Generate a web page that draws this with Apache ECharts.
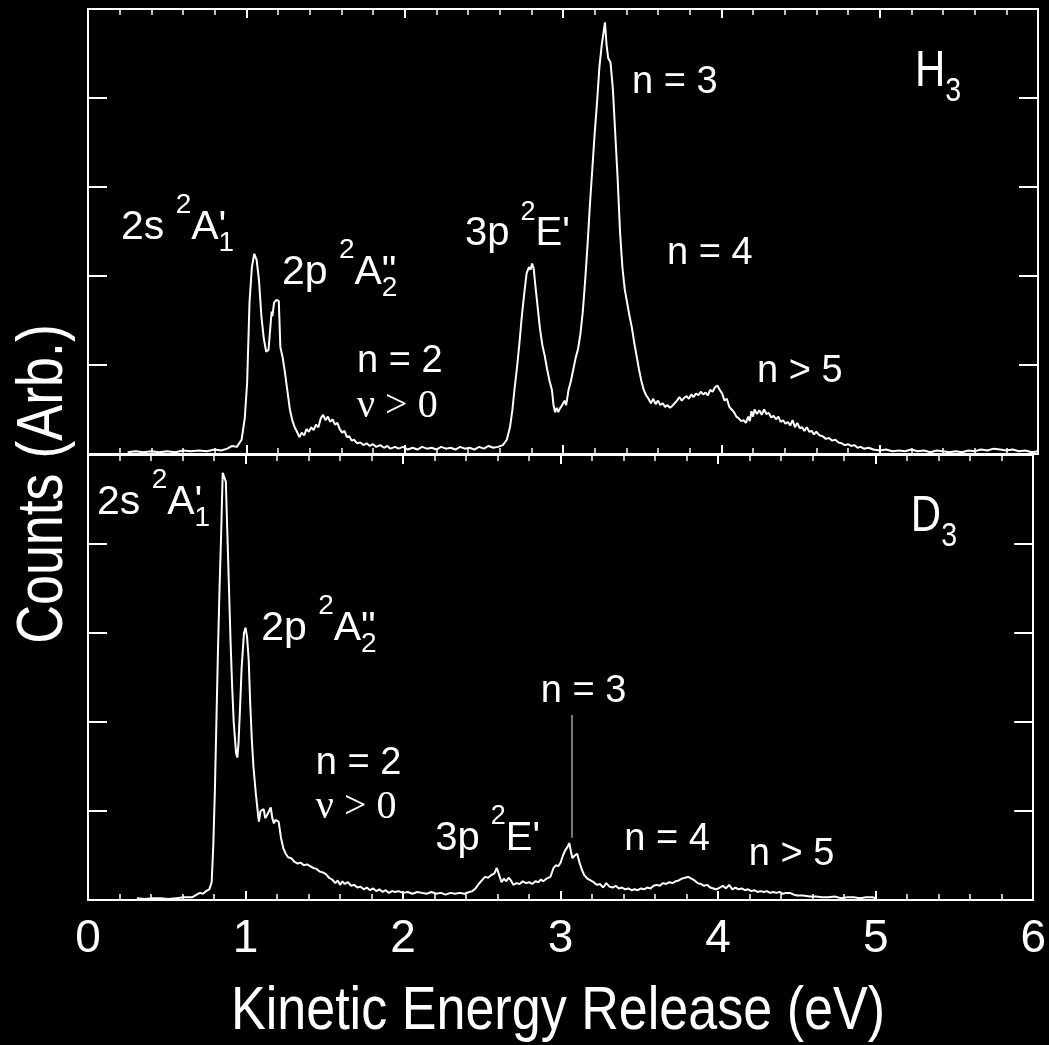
<!DOCTYPE html>
<html>
<head>
<meta charset="utf-8">
<script src="https://cdn.jsdelivr.net/npm/echarts@6/dist/echarts.min.js"></script>
<style>
  html, body { margin: 0; padding: 0; background: #000; }
  #chart { width: 1049px; height: 1045px; }
</style>
</head>
<body>
<div id="chart"></div>
<script>
// Kinetic energy release spectra of H3 and D3 (arbitrary count units)
const xTickLabels = ['0', '1', '2', '3', '4', '5', '6'];

// [energy (eV), counts]
const h3Spectrum = [
  [0.25,0.02],[0.30,0.03],[0.35,0.02],[0.40,0.03],[0.45,0.02],[0.50,0.03],[0.55,0.02],[0.60,0.04],
  [0.65,0.03],[0.70,0.04],[0.75,0.03],[0.80,0.05],[0.84,0.04],[0.88,0.06],[0.91,0.09],[0.94,0.08],
  [0.97,0.16],[0.99,0.40],[1.005,0.80],[1.02,1.70],[1.035,2.10],[1.05,2.25],[1.065,2.18],[1.08,1.95],
  [1.095,1.55],[1.11,1.30],[1.125,1.15],[1.14,1.17],[1.155,1.50],[1.16,1.60],[1.165,1.55],[1.175,1.70],
  [1.19,1.73],[1.205,1.72],[1.215,1.20],[1.23,1.08],[1.245,0.90],[1.26,0.70],[1.275,0.50],[1.29,0.38],
  [1.305,0.30],[1.32,0.25],[1.335,0.19],[1.35,0.24],[1.365,0.21],[1.38,0.28],[1.395,0.25],[1.41,0.30],
  [1.425,0.27],[1.44,0.33],[1.455,0.30],[1.47,0.40],[1.485,0.44],[1.50,0.38],[1.515,0.42],[1.53,0.36],
  [1.545,0.39],[1.56,0.33],[1.575,0.35],[1.59,0.28],[1.605,0.24],[1.62,0.26],[1.635,0.19],[1.65,0.20],
  [1.665,0.15],[1.68,0.16],[1.70,0.12],[1.72,0.13],[1.74,0.10],[1.76,0.12],[1.78,0.09],[1.80,0.11],
  [1.82,0.08],[1.845,0.10],[1.87,0.07],[1.89,0.09],[1.91,0.06],[1.94,0.08],[1.96,0.06],[1.99,0.08],
  [2.02,0.05],[2.05,0.07],[2.08,0.05],[2.11,0.08],[2.14,0.06],[2.17,0.07],[2.20,0.05],[2.23,0.08],
  [2.26,0.06],[2.29,0.07],[2.32,0.05],[2.35,0.08],[2.38,0.06],[2.41,0.07],[2.44,0.05],[2.47,0.08],
  [2.50,0.06],[2.53,0.09],[2.56,0.07],[2.59,0.08],[2.62,0.10],[2.645,0.16],[2.665,0.30],[2.68,0.49],
  [2.695,0.75],[2.71,0.98],[2.725,1.25],[2.74,1.55],[2.755,1.80],[2.77,2.03],[2.785,2.10],[2.795,2.07],
  [2.805,2.14],[2.815,2.08],[2.825,1.90],[2.84,1.65],[2.855,1.40],[2.87,1.22],[2.885,1.10],[2.90,0.95],
  [2.915,0.82],[2.93,0.72],[2.94,0.55],[2.95,0.47],[2.96,0.52],[2.97,0.47],[2.98,0.51],[2.995,0.55],
  [3.01,0.60],[3.02,0.55],[3.035,0.72],[3.05,0.82],[3.065,0.95],[3.08,1.08],[3.095,1.18],[3.11,1.35],
  [3.125,1.60],[3.14,1.95],[3.155,2.35],[3.17,2.80],[3.185,3.20],[3.20,3.60],[3.215,3.95],[3.23,4.35],
  [3.245,4.60],[3.255,4.72],[3.265,4.85],[3.275,4.60],[3.285,4.45],[3.30,4.40],[3.315,4.10],[3.33,3.60],
  [3.345,3.10],[3.36,2.50],[3.375,2.10],[3.39,1.85],[3.405,1.70],[3.42,1.55],[3.435,1.42],[3.45,1.25],
  [3.465,1.10],[3.48,0.95],[3.495,0.82],[3.51,0.72],[3.525,0.66],[3.54,0.62],[3.555,0.57],[3.57,0.62],
  [3.585,0.56],[3.60,0.60],[3.615,0.55],[3.63,0.57],[3.645,0.53],[3.66,0.55],[3.675,0.52],[3.69,0.54],
  [3.705,0.57],[3.72,0.60],[3.735,0.64],[3.75,0.60],[3.765,0.63],[3.78,0.65],[3.795,0.62],[3.81,0.67],
  [3.825,0.64],[3.84,0.68],[3.855,0.66],[3.87,0.70],[3.885,0.67],[3.90,0.69],[3.915,0.66],[3.93,0.72],
  [3.945,0.70],[3.96,0.75],[3.975,0.77],[3.99,0.72],[4.005,0.68],[4.02,0.60],[4.035,0.62],[4.05,0.53],
  [4.065,0.50],[4.08,0.47],[4.095,0.42],[4.11,0.40],[4.125,0.37],[4.14,0.38],[4.155,0.35],[4.17,0.42],
  [4.18,0.37],[4.19,0.48],[4.20,0.42],[4.21,0.50],[4.225,0.45],[4.24,0.49],[4.255,0.44],[4.27,0.50],
  [4.285,0.45],[4.30,0.46],[4.315,0.41],[4.33,0.43],[4.345,0.39],[4.36,0.42],[4.375,0.36],[4.39,0.38],
  [4.405,0.34],[4.42,0.36],[4.435,0.32],[4.45,0.38],[4.465,0.30],[4.48,0.35],[4.495,0.29],[4.51,0.30],
  [4.525,0.26],[4.54,0.30],[4.555,0.25],[4.57,0.26],[4.585,0.22],[4.60,0.25],[4.62,0.21],[4.64,0.20],
  [4.66,0.17],[4.68,0.18],[4.70,0.15],[4.72,0.16],[4.74,0.13],[4.76,0.12],[4.78,0.10],[4.80,0.11],
  [4.82,0.09],[4.84,0.10],[4.86,0.07],[4.88,0.08],[4.90,0.06],[4.93,0.07],[4.96,0.05],[5.00,0.04],
  [5.04,0.05],[5.08,0.03],[5.12,0.04],[5.16,0.03],[5.20,0.05],[5.24,0.03],[5.28,0.04],[5.32,0.02],
  [5.36,0.04],[5.40,0.03],[5.44,0.02],[5.48,0.03],[5.52,0.02],[5.56,0.04],[5.60,0.03],[5.64,0.05],
  [5.68,0.04],[5.72,0.06],[5.76,0.05],[5.80,0.04],[5.84,0.05],[5.88,0.03],[5.92,0.04],[5.96,0.02],
  [6.00,0.03]
];

const d3Spectrum = [
  [0.31,0.02],[0.36,0.01],[0.41,0.02],[0.46,0.02],[0.51,0.01],[0.56,0.02],[0.61,0.03],[0.66,0.03],
  [0.69,0.06],[0.71,0.08],[0.73,0.07],[0.75,0.10],[0.77,0.12],[0.785,0.20],[0.795,0.60],[0.805,1.20],
  [0.815,2.00],[0.825,2.80],[0.835,3.50],[0.845,4.10],[0.855,4.80],[0.865,4.78],[0.875,4.70],[0.885,4.10],
  [0.895,3.50],[0.905,2.90],[0.915,2.40],[0.925,2.00],[0.94,1.65],[0.948,1.60],[0.955,1.75],[0.965,2.15],
  [0.975,2.60],[0.99,3.00],[1.00,3.06],[1.01,2.95],[1.02,2.70],[1.03,2.20],[1.04,1.80],[1.05,1.50],
  [1.065,1.20],[1.08,0.95],[1.085,0.88],[1.095,1.00],[1.105,0.98],[1.115,1.02],[1.125,0.92],[1.135,0.95],
  [1.15,1.00],[1.16,1.04],[1.17,0.92],[1.18,0.86],[1.19,0.90],[1.20,0.92],[1.21,0.88],[1.225,0.70],
  [1.24,0.58],[1.255,0.52],[1.27,0.48],[1.29,0.47],[1.31,0.43],[1.33,0.41],[1.35,0.42],[1.37,0.39],
  [1.39,0.40],[1.41,0.38],[1.43,0.36],[1.45,0.35],[1.47,0.32],[1.49,0.31],[1.51,0.29],[1.53,0.25],
  [1.55,0.23],[1.57,0.19],[1.585,0.22],[1.60,0.17],[1.615,0.21],[1.63,0.18],[1.65,0.20],[1.67,0.16],
  [1.69,0.17],[1.71,0.14],[1.73,0.15],[1.75,0.12],[1.77,0.14],[1.79,0.11],[1.81,0.13],[1.83,0.10],
  [1.85,0.12],[1.87,0.09],[1.89,0.11],[1.91,0.08],[1.93,0.10],[1.95,0.09],[1.97,0.10],[2.00,0.08],
  [2.03,0.09],[2.06,0.07],[2.09,0.09],[2.12,0.08],[2.15,0.07],[2.18,0.09],[2.21,0.07],[2.24,0.08],
  [2.27,0.06],[2.30,0.08],[2.33,0.07],[2.36,0.08],[2.39,0.07],[2.42,0.09],[2.44,0.10],[2.46,0.13],
  [2.48,0.18],[2.50,0.22],[2.52,0.26],[2.54,0.25],[2.56,0.28],[2.58,0.30],[2.595,0.36],[2.61,0.28],
  [2.625,0.20],[2.64,0.24],[2.655,0.21],[2.67,0.25],[2.685,0.22],[2.70,0.17],[2.72,0.19],[2.74,0.18],
  [2.76,0.21],[2.78,0.19],[2.80,0.20],[2.82,0.18],[2.84,0.21],[2.86,0.20],[2.875,0.23],[2.89,0.21],
  [2.91,0.24],[2.935,0.26],[2.955,0.36],[2.97,0.39],[2.985,0.38],[3.00,0.42],[3.015,0.50],[3.03,0.56],
  [3.045,0.60],[3.055,0.64],[3.065,0.55],[3.075,0.47],[3.09,0.50],[3.105,0.52],[3.12,0.42],[3.135,0.34],
  [3.15,0.28],[3.17,0.24],[3.19,0.22],[3.21,0.20],[3.23,0.17],[3.25,0.18],[3.27,0.14],[3.29,0.19],
  [3.31,0.15],[3.33,0.14],[3.35,0.16],[3.37,0.13],[3.39,0.14],[3.41,0.12],[3.43,0.13],[3.45,0.11],
  [3.47,0.12],[3.49,0.11],[3.51,0.13],[3.53,0.12],[3.55,0.14],[3.57,0.13],[3.59,0.16],[3.61,0.17],
  [3.63,0.16],[3.65,0.19],[3.67,0.18],[3.69,0.20],[3.71,0.19],[3.73,0.21],[3.75,0.22],[3.77,0.24],
  [3.79,0.25],[3.81,0.26],[3.83,0.24],[3.85,0.22],[3.87,0.19],[3.89,0.18],[3.91,0.16],[3.93,0.17],
  [3.95,0.14],[3.97,0.13],[3.99,0.12],[4.01,0.14],[4.03,0.16],[4.05,0.13],[4.07,0.17],[4.09,0.12],
  [4.11,0.14],[4.13,0.12],[4.15,0.13],[4.17,0.11],[4.19,0.12],[4.21,0.10],[4.23,0.11],[4.25,0.09],
  [4.27,0.10],[4.29,0.09],[4.31,0.10],[4.33,0.08],[4.35,0.09],[4.37,0.08],[4.39,0.09],[4.41,0.07],
  [4.43,0.08],[4.455,0.08],[4.48,0.06],[4.50,0.05],[4.54,0.05],[4.58,0.04],[4.62,0.04],[4.66,0.03],
  [4.70,0.03],[4.74,0.04],[4.78,0.02],[4.82,0.03],[4.86,0.03],[4.90,0.02],[4.94,0.03],[4.98,0.03],
  [5.00,0.02]
];

// Thin marker line above the D3 n = 3 feature: [energy, from, to]
const d3Marker = [3.07, 0.70, 2.08];

const SANS = '"Liberation Sans", Arial, Helvetica, sans-serif';
const SERIF = '"Liberation Serif", "Times New Roman", serif';

// Peak labels: parts are [text, kind] with kind m (main), sup, sub, or pr (prime, no advance)
const h3Notes = [
  { x: 0.208, y: 2.38, size: 41, parts: [['2s ', 'm'], ['2', 'sup'], ['A', 'm'], ["'", 'pr'], ['1', 'sub']] },
  { x: 1.225, y: 1.88, size: 41, parts: [['2p ', 'm'], ['2', 'sup'], ['A', 'm'], ['"', 'pr'], ['2', 'sub']] },
  { x: 1.699, y: 0.89, size: 38, parts: [['n = 2', 'm']] },
  { x: 1.699, y: 0.38, size: 40, serif: true, parts: [['\u03bd > 0', 'm']] },
  { x: 2.381, y: 2.31, size: 40, parts: [['3p ', 'm'], ['2', 'sup'], ["E'", 'm']] },
  { x: 3.436, y: 4.03, size: 38, parts: [['n = 3', 'm']] },
  { x: 3.657, y: 2.10, size: 38, parts: [['n = 4', 'm']] },
  { x: 4.225, y: 0.78, size: 38, parts: [['n > 5', 'm']] },
  { x: 5.223, y: 4.09, size: 50, squeeze: 0.84, parts: [['H', 'm'], ['3', 'sub']] }
];
const d3Notes = [
  { x: 0.057, y: 4.30, size: 41, parts: [['2s ', 'm'], ['2', 'sup'], ['A', 'm'], ["'", 'pr'], ['1', 'sub']] },
  { x: 1.099, y: 2.89, size: 41, parts: [['2p ', 'm'], ['2', 'sup'], ['A', 'm'], ['"', 'pr'], ['2', 'sub']] },
  { x: 1.446, y: 1.38, size: 38, parts: [['n = 2', 'm']] },
  { x: 1.446, y: 0.88, size: 40, serif: true, parts: [['\u03bd > 0', 'm']] },
  { x: 2.204, y: 0.53, size: 40, parts: [['3p ', 'm'], ['2', 'sup'], ["E'", 'm']] },
  { x: 2.874, y: 2.19, size: 38, parts: [['n = 3', 'm']] },
  { x: 3.404, y: 0.53, size: 38, parts: [['n = 4', 'm']] },
  { x: 4.194, y: 0.36, size: 38, parts: [['n > 5', 'm']] },
  { x: 5.223, y: 4.10, size: 50, squeeze: 0.84, parts: [['D', 'm'], ['3', 'sub']] }
];

const WHITE = '#ffffff';

function xAxisDef(gridIndex, position, withLabels) {
  return {
    type: 'value', gridIndex, position, min: 0, max: 6, interval: 1,
    axisLine: { show: true, onZero: false, lineStyle: { color: WHITE, width: 2 } },
    axisTick: { show: true, inside: true, length: 9, lineStyle: { color: WHITE, width: 2 } },
    minorTick: { show: true, splitNumber: 5, length: 6, lineStyle: { color: WHITE, width: 1.5 } },
    splitLine: { show: false },
    axisLabel: withLabels ? {
      show: true, color: WHITE, fontSize: 46, fontFamily: SANS, margin: 16,
      formatter: v => xTickLabels[Math.round(v)] ?? ''
    } : { show: false }
  };
}

function yAxisDef(gridIndex, position) {
  return {
    type: 'value', gridIndex, position, min: 0, max: 5, interval: 1,
    axisLine: { show: true, onZero: false, lineStyle: { color: WHITE, width: 2 } },
    axisTick: { show: true, inside: true, length: 19, lineStyle: { color: WHITE, width: 2 } },
    splitLine: { show: false },
    axisLabel: { show: false }
  };
}

const chart = echarts.init(document.getElementById('chart'), null, { renderer: 'canvas' });

chart.setOption({
  backgroundColor: '#000000',
  animation: false,
  grid: [
    { left: 88, right: 11, top: 9, height: 445 },
    { left: 88, right: 11, top: 455, height: 445 }
  ],
  xAxis: [
    xAxisDef(0, 'bottom', false),
    xAxisDef(0, 'top', false),
    xAxisDef(1, 'top', false),
    xAxisDef(1, 'bottom', true)
  ],
  yAxis: [
    yAxisDef(0, 'left'),
    yAxisDef(0, 'right'),
    yAxisDef(1, 'left'),
    yAxisDef(1, 'right')
  ],
  series: [
    {
      name: 'H3', type: 'line', xAxisIndex: 0, yAxisIndex: 0,
      data: h3Spectrum, showSymbol: false, symbol: 'none',
      lineStyle: { color: WHITE, width: 2 }
    },
    {
      name: 'D3', type: 'line', xAxisIndex: 3, yAxisIndex: 2,
      data: d3Spectrum, showSymbol: false, symbol: 'none',
      lineStyle: { color: WHITE, width: 2 },
      markLine: {
        silent: true, symbol: ['none', 'none'], label: { show: false },
        lineStyle: { color: '#a0a0a0', width: 1.5, type: 'solid' },
        data: [[{ coord: [d3Marker[0], d3Marker[1]] }, { coord: [d3Marker[0], d3Marker[2]] }]]
      }
    }
  ]
});

// Text measurement for composing labels with super/subscripts
const measureCtx = document.createElement('canvas').getContext('2d');
function textWidth(t, size, family) {
  measureCtx.font = size + 'px ' + family;
  return measureCtx.measureText(t).width;
}

function buildNotes(notes, finder) {
  const els = [];
  notes.forEach(n => {
    const [px, py] = chart.convertToPixel(finder, [n.x, n.y]);
    const family = n.serif ? SERIF : SANS;
    const sx = n.squeeze || 1;
    let cx = px;
    n.parts.forEach(([t, kind]) => {
      let fs = n.size, dy = 0;
      if (kind === 'sup') { fs = Math.round(n.size * 0.68); dy = -0.66 * n.size; }
      if (kind === 'sub') { fs = Math.round(n.size * 0.68); dy = 0.27 * n.size; }
      els.push({
        type: 'text', silent: true, scaleX: sx,
        x: cx, y: py + dy - 0.35 * fs,
        style: { text: t, fill: WHITE, fontSize: fs, fontFamily: family, align: 'left', verticalAlign: 'middle' }
      });
      if (kind !== 'pr') cx += textWidth(t, fs, family) * sx;
    });
  });
  return els;
}

const graphics = []
  .concat(buildNotes(h3Notes, { xAxisIndex: 0, yAxisIndex: 0 }))
  .concat(buildNotes(d3Notes, { xAxisIndex: 3, yAxisIndex: 2 }));

// Axis titles
graphics.push({
  type: 'text', silent: true, x: 558, y: 1012, scaleX: 0.84,
  style: { text: 'Kinetic Energy Release (eV)', fill: WHITE, fontSize: 62, fontFamily: SANS, align: 'center', verticalAlign: 'middle' }
});
graphics.push({
  type: 'text', silent: true, x: 44, y: 484, rotation: Math.PI / 2, scaleX: 0.84,
  style: { text: 'Counts (Arb.)', fill: WHITE, fontSize: 64, fontFamily: SANS, align: 'center', verticalAlign: 'middle' }
});

chart.setOption({ graphic: graphics });
</script>
</body>
</html>
